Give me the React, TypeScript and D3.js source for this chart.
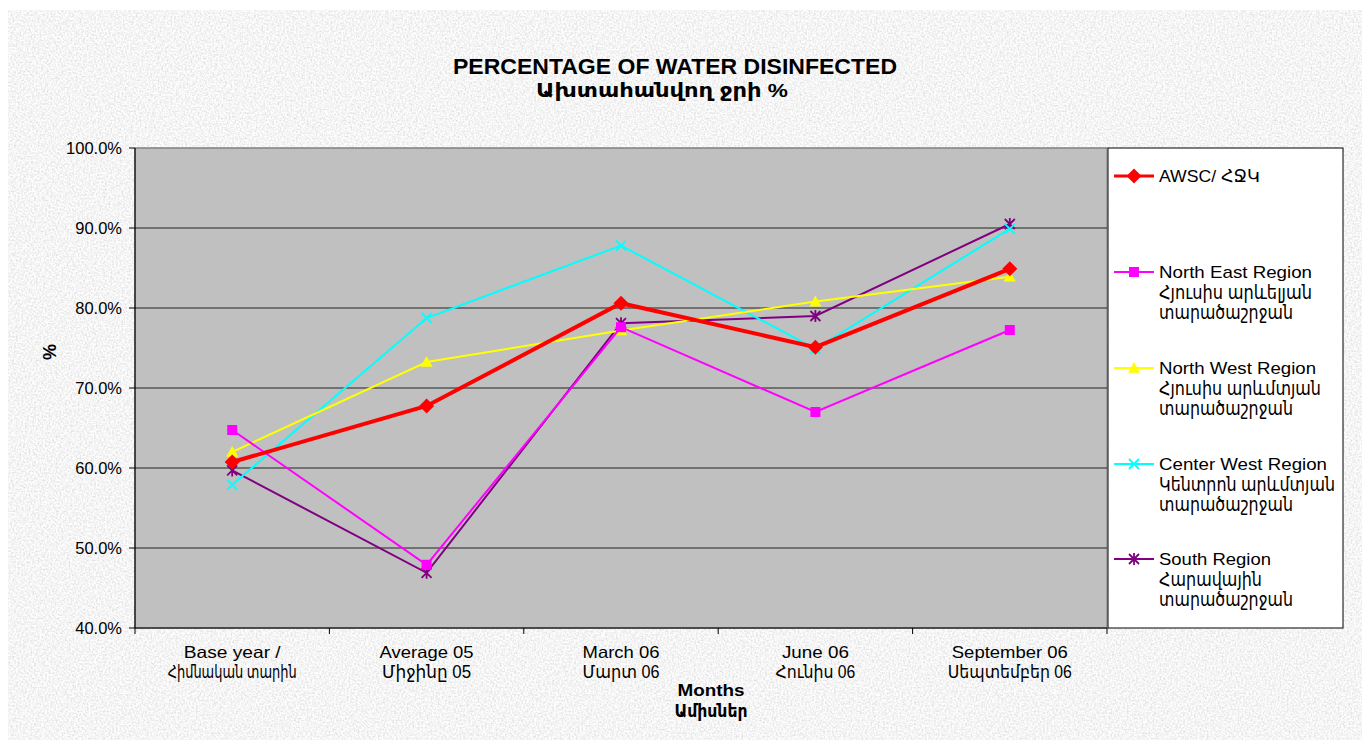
import React from "react";
import * as d3 from "d3";

const categories = [
  ["Base year /", "Հիմնական տարին"],
  ["Average 05", "Միջինը 05"],
  ["March 06", "Մարտ 06"],
  ["June 06", "Հունիս 06"],
  ["September 06", "Սեպտեմբեր 06"],
];

const awsc = [60.75, 67.75, 80.6, 75.1, 84.9];
const northEast = [64.75, 47.9, 77.6, 67.0, 77.25];
const northWest = [62.0, 73.25, 77.2, 80.8, 83.9];
const centerWest = [57.9, 78.75, 87.8, 74.9, 89.9];
const south = [59.7, 46.9, 78.1, 79.0, 90.5];

const yTicks = [40, 50, 60, 70, 80, 90, 100];

const seriesDefs = [
  { name: ["AWSC/ ՀՋԿ"], values: awsc, color: "#FF0000", width: 4, marker: "diamond" },
  { name: ["North East Region", "Հյուսիս արևելյան", "տարածաշրջան"], values: northEast, color: "#FF00FF", width: 2, marker: "square" },
  { name: ["North West Region", "Հյուսիս արևմտյան", "տարածաշրջան"], values: northWest, color: "#FFFF00", width: 2, marker: "triangle" },
  { name: ["Center West Region", "Կենտրոն արևմտյան", "տարածաշրջան"], values: centerWest, color: "#00FFFF", width: 2, marker: "x" },
  { name: ["South Region", "Հարավային", "տարածաշրջան"], values: south, color: "#800080", width: 2, marker: "star" },
];

// rendered text widths (layout only), matched to the reference picture
const TEXT_W: Record<string, number> = {
  "AWSC/ ՀՋԿ": 101,
  "North East Region": 153,
  "Հյուսիս արևելյան": 153,
  "տարածաշրջան": 134,
  "North West Region": 157,
  "Հյուսիս արևմտյան": 162,
  "Center West Region": 168,
  "Կենտրոն արևմտյան": 176,
  "South Region": 112,
  "Հարավային": 103,
  "Base year /": 97,
  "Հիմնական տարին": 129,
  "Average 05": 94,
  "Միջինը 05": 89,
  "March 06": 77,
  "Մարտ 06": 77,
  "June 06": 67,
  "Հունիս 06": 80,
  "September 06": 116,
  "Սեպտեմբեր 06": 124,
};

const FONT = "'Liberation Sans', Arial, 'DejaVu Sans', sans-serif";
const isArmenian = (s: string) => /^[\u0530-\u058F\s0-9%]+$/.test(s) && /[\u0530-\u058F]/.test(s);

function Marker({ type, x, y, color }: { type: string; x: number; y: number; color: string }) {
  if (type === "diamond") {
    const s = 7.5;
    return <path d={`M${x},${y - s}L${x + s},${y}L${x},${y + s}L${x - s},${y}Z`} fill={color} />;
  }
  if (type === "square") {
    const s = 5;
    return <rect x={x - s} y={y - s} width={2 * s} height={2 * s} fill={color} />;
  }
  if (type === "triangle") {
    const s = 6;
    return <path d={`M${x},${y - s}L${x + s},${y + s * 0.8}L${x - s},${y + s * 0.8}Z`} fill={color} />;
  }
  if (type === "x") {
    const s = 5;
    return (
      <path d={`M${x - s},${y - s}L${x + s},${y + s}M${x - s},${y + s}L${x + s},${y - s}`} stroke={color} strokeWidth={1.8} />
    );
  }
  const s = 5;
  return (
    <path
      d={`M${x - s},${y - s}L${x + s},${y + s}M${x - s},${y + s}L${x + s},${y - s}M${x},${y - s - 1}L${x},${y + s + 1}`}
      stroke={color}
      strokeWidth={1.8}
    />
  );
}

export default function App() {
  const W = 1369;
  const H = 743;
  const plot = { left: 135, right: 1107, top: 148, bottom: 628 };

  const x = d3
    .scaleBand<number>()
    .domain(d3.range(categories.length))
    .range([plot.left, plot.right]);
  const y = d3.scaleLinear().domain([40, 100]).range([plot.bottom, plot.top]);
  const cx = (i: number) => (x(i) as number) + x.bandwidth() / 2;
  const line = d3
    .line<number>()
    .x((_, i) => cx(i))
    .y((d) => y(d));

  const legend = { left: 1108, top: 148, right: 1343, bottom: 628 };
  const legendY = [176, 272, 368, 464, 559];

  const boundaries = d3.range(categories.length + 1).map((i) => plot.left + i * x.bandwidth());

  return (
    <svg
      width={W}
      height={H}
      style={{ position: "absolute", left: 0, top: 0, display: "block" }}
      fontFamily={FONT}
    >
      <defs>
        <filter id="tex" x="0" y="0" width="100%" height="100%">
          <feTurbulence type="fractalNoise" baseFrequency="0.55" numOctaves="2" seed="3" result="n" />
          <feColorMatrix
            in="n"
            type="matrix"
            values="0.5 0 0 0 0.66  0.5 0 0 0 0.66  0.5 0 0 0 0.66  0 0 0 0 1"
          />
        </filter>
      </defs>
      <rect x={0} y={0} width={W} height={H} fill="#ffffff" />
      <rect x={8} y={10} width={1354} height={730} fill="#ececec" filter="url(#tex)" />

      {/* Title */}
      <text x={675} y={74} textAnchor="middle" fontWeight="bold" fontSize={22.5} fill="#000" textLength={444} lengthAdjust="spacingAndGlyphs">
        PERCENTAGE OF WATER DISINFECTED
      </text>
      <text x={662} y={97} textAnchor="middle" fontWeight="bold" fontSize={19} fill="#000" textLength={252} lengthAdjust="spacingAndGlyphs">
        Ախտահանվող ջրի %
      </text>

      {/* Plot area */}
      <rect
        x={plot.left}
        y={plot.top}
        width={plot.right - plot.left}
        height={plot.bottom - plot.top}
        fill="#C0C0C0"
        stroke="#808080"
        strokeWidth={1}
      />
      {yTicks.map((t) => (
        <line
          key={`g${t}`}
          x1={plot.left}
          x2={plot.right}
          y1={y(t)}
          y2={y(t)}
          stroke={t === 100 || t === 40 ? "#808080" : "#222"}
          strokeWidth={1.2}
        />
      ))}
      {/* axes */}
      <line x1={plot.left} x2={plot.left} y1={plot.top} y2={plot.bottom} stroke="#000" strokeWidth={1.2} />
      <line x1={plot.left} x2={plot.right} y1={plot.bottom} y2={plot.bottom} stroke="#000" strokeWidth={1.2} />
      {yTicks.map((t) => (
        <g key={`yt${t}`}>
          <line x1={plot.left - 6} x2={plot.left} y1={y(t)} y2={y(t)} stroke="#000" />
          <text x={plot.left - 13} y={y(t)} dy="0.36em" textAnchor="end" fontSize={16.5} fill="#000">
            {`${t.toFixed(1)}%`}
          </text>
        </g>
      ))}
      {boundaries.map((b, i) => (
        <line key={`xt${i}`} x1={b} x2={b} y1={plot.bottom} y2={plot.bottom + 6} stroke="#000" />
      ))}
      {categories.map((c, i) => (
        <g key={`xl${i}`}>
          <text x={cx(i)} y={658} textAnchor="middle" fontSize={16.5} fill="#000" textLength={TEXT_W[c[0]]} lengthAdjust="spacingAndGlyphs">
            {c[0]}
          </text>
          <text x={cx(i)} y={678} textAnchor="middle" fontSize={18.5} fill="#000" textLength={TEXT_W[c[1]]} lengthAdjust="spacingAndGlyphs">
            {c[1]}
          </text>
        </g>
      ))}
      <text x={711} y={696} textAnchor="middle" fontWeight="bold" fontSize={16.5} fill="#000" textLength={67} lengthAdjust="spacingAndGlyphs">
        Months
      </text>
      <text x={711} y={717} textAnchor="middle" fontWeight="bold" fontSize={18.5} fill="#000" textLength={73} lengthAdjust="spacingAndGlyphs">
        Ամիսներ
      </text>
      <text
        transform={`translate(50,352) rotate(-90)`}
        textAnchor="middle"
        dy="0.35em"
        fontWeight="bold"
        fontSize={18}
        fill="#000"
      >
        %
      </text>

      {/* Series (back to front so AWSC is on top) */}
      {[...seriesDefs].reverse().map((s) => (
        <g key={s.name[0]}>
          <path d={line(s.values) as string} fill="none" stroke={s.color} strokeWidth={s.width} />
          {s.values.map((v, i) => (
            <Marker key={i} type={s.marker} x={cx(i)} y={y(v)} color={s.color} />
          ))}
        </g>
      ))}

      {/* Legend */}
      <rect
        x={legend.left}
        y={legend.top}
        width={legend.right - legend.left}
        height={legend.bottom - legend.top}
        fill="#fff"
        stroke="#000"
        strokeWidth={1}
      />
      {seriesDefs.map((s, k) => (
        <g key={`lg${k}`}>
          <line x1={1114} x2={1154} y1={legendY[k]} y2={legendY[k]} stroke={s.color} strokeWidth={s.width === 4 ? 3 : 2} />
          <Marker type={s.marker} x={1134} y={legendY[k]} color={s.color} />
          {s.name.map((n, j) => (
            <text
              key={j}
              x={1159}
              y={legendY[k] + j * 20}
              dy="0.36em"
              fontSize={isArmenian(n) ? 19 : 17}
              fill="#000"
              textLength={TEXT_W[n]}
              lengthAdjust="spacingAndGlyphs"
            >
              {n}
            </text>
          ))}
        </g>
      ))}
    </svg>
  );
}
